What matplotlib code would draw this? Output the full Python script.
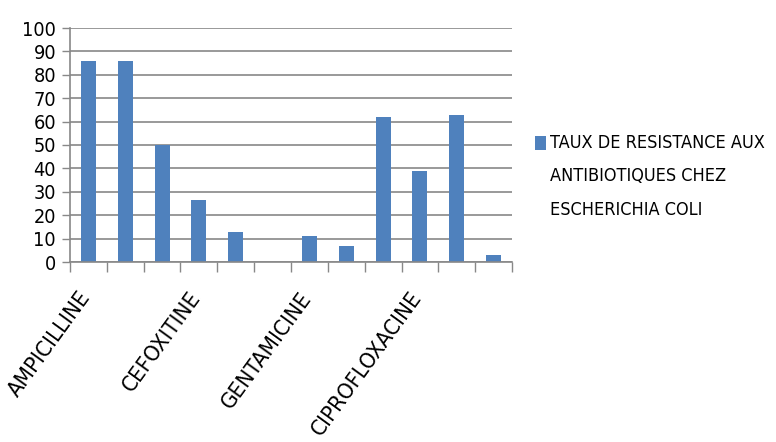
import matplotlib
matplotlib.use("Agg")
import matplotlib.pyplot as plt
from matplotlib.transforms import ScaledTranslation
import numpy as np

categories = ["AMPICILLINE", "", "", "CEFOXITINE", "", "", "GENTAMICINE", "", "", "CIPROFLOXACINE", "", ""]
values = [86, 86, 50, 26.5, 13, 0, 11, 7, 62, 39, 63, 3]
series_name = "TAUX DE RESISTANCE AUX\nANTIBIOTIQUES CHEZ\nESCHERICHIA COLI"
yticks = list(range(0, 101, 10))

plt.rcParams["font.family"] = ["DejaVu Sans"]
plt.rcParams["font.stretch"] = "condensed"

W, H = 776, 442
fig = plt.figure(figsize=(W / 100, H / 100), dpi=100)
ax = fig.add_axes([70 / W, 1 - 262 / H, (512 - 70) / W, (262 - 28) / H])

x = np.arange(len(values))
ax.bar(x, values, width=0.41, color="#4F81BD", zorder=3, label=series_name)

ax.set_xlim(-0.5, len(values) - 0.5)
ax.set_ylim(0, 100)
ax.set_yticks(yticks)
ax.set_yticklabels([str(t) for t in yticks], fontsize=14.2)
ax.yaxis.grid(True, color="#888888", linewidth=1.2, zorder=0)
ax.tick_params(axis="y", length=6, width=1, color="#888888", pad=4)

# major ticks at category boundaries, labels at category centers
ax.set_xticks(np.arange(-0.5, len(values), 1.0))
ax.set_xticklabels([])
ax.tick_params(axis="x", which="major", length=7, width=1, color="#888888")
ax.set_xticks(x, minor=True)
ax.set_xticklabels(categories, minor=True, rotation=54, ha="right", va="center",
                   rotation_mode="anchor", fontsize=16)
ax.tick_params(axis="x", which="minor", length=0, pad=23)
shift = ScaledTranslation(-2 / 100, 0, fig.dpi_scale_trans)
for lab in ax.get_xticklabels(minor=True):
    lab.set_transform(lab.get_transform() + shift)

for s in ["top", "right"]:
    ax.spines[s].set_visible(False)
for s in ["left", "bottom"]:
    ax.spines[s].set_color("#888888")
    ax.spines[s].set_linewidth(1.2)
ax.spines["bottom"].set_zorder(4)

fs = 13
leg = ax.legend(loc="upper left", bbox_to_anchor=(535 / W, 1 - 133.5 / H),
                bbox_transform=fig.transFigure, frameon=False, fontsize=fs,
                handlelength=0.6, handleheight=0.85, handletextpad=0.25,
                borderpad=0, borderaxespad=0)
for t in leg.get_texts():
    t.set_linespacing(2.12)
# align the legend square with the first line of the label
line_step_pt = 33.7 * 72 / 100
for hnd in leg.legend_handles:
    hnd.set_y(hnd.get_y() + line_step_pt)

fig.savefig("out.png", dpi=100)
